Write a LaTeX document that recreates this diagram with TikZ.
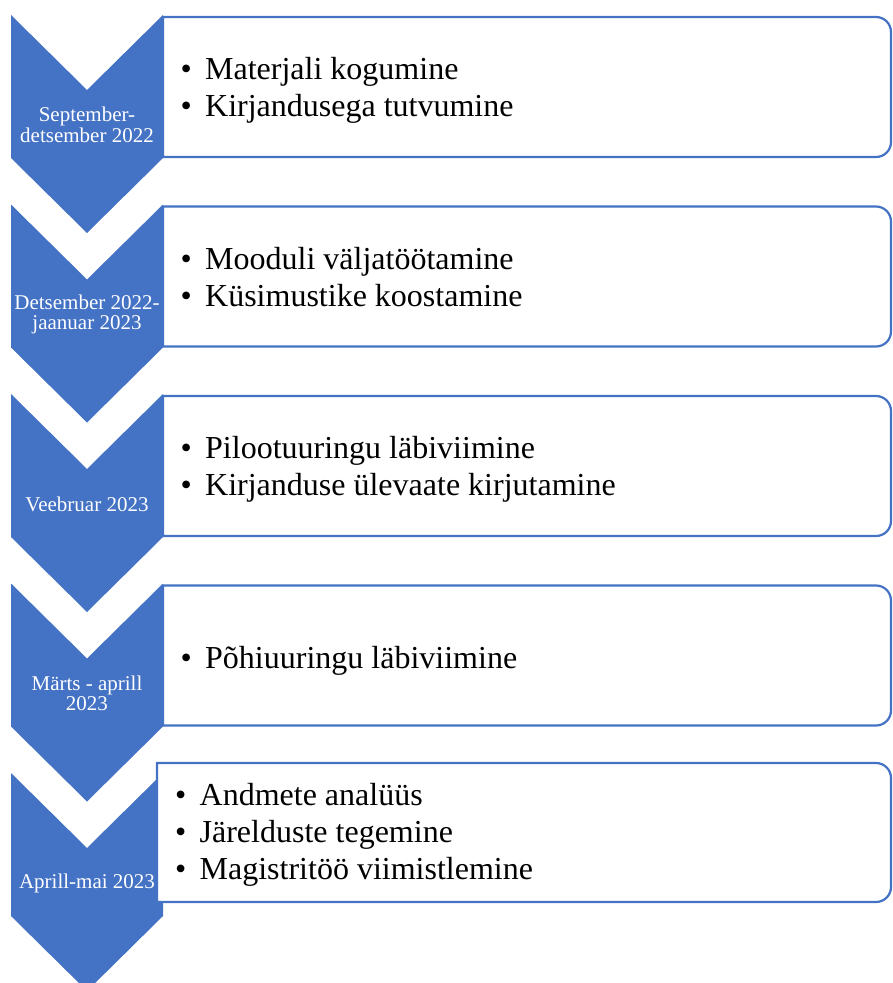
\documentclass[tikz,border=0pt]{standalone}
\usepackage{fontspec}
\setmainfont{Liberation Serif}
\definecolor{accblue}{HTML}{4472C4}
\newcommand\bitem[1]{\makebox[24.5pt][l]{\textbullet}#1}
\begin{document}
\begin{tikzpicture}[x=1pt,y=-1pt,
  chevfill/.style={fill=accblue,draw=none},
  chevlabel/.style={text=white,align=center,inner sep=0pt,font=\fontsize{21}{20.5}\selectfont},
  boxline/.style={draw=accblue,line width=2.2pt,fill=white},
  boxtext/.style={anchor=base west,inner sep=0pt,font=\fontsize{32}{37}\selectfont}]
\useasboundingbox (0,0) rectangle (892,983);
% chevrons
\foreach \t/\n in {15/1,204.5/2,394/3,583.5/4,773/5}{
  \fill[chevfill] (11,\t) -- (87,\t+75) -- (163,\t) -- (163,\t+143) -- (87,\t+218) -- (11,\t+143) -- cycle;
  \coordinate (chev\n) at (87,\t+110);
}
% boxes
\foreach \t/\l in {17/163,206.5/163,396/163,585.5/163}{
  \draw[boxline] (\l,\t) [rounded corners=15pt] -- (891,\t) -- (891,\t+140) [sharp corners] -- (\l,\t+140) -- cycle;
}
\draw[boxline] (157,763) [rounded corners=15pt] -- (891,763) -- (891,902) [sharp corners] -- (157,902) -- cycle;
% chevron labels
\node[chevlabel] (l1) at (chev1) {September-\\detsember 2022};
\node[chevlabel] (l2) at (chev2) {Detsember 2022-\\jaanuar 2023};
\node[chevlabel] (l3) at (chev3) {Veebruar 2023};
\node[chevlabel] (l4) at (chev4) {Märts - aprill\\2023};
\node[chevlabel] (l5) at (chev5) {Aprill-mai 2023};
% box texts
\node[boxtext] (t1a) at (180.5,79) {\bitem{Materjali kogumine}};
\node[boxtext] (t1b) at (180.5,116) {\bitem{Kirjandusega tutvumine}};
\node[boxtext] (t2a) at (180.5,269) {\bitem{Mooduli väljatöötamine}};
\node[boxtext] (t2b) at (180.5,306) {\bitem{Küsimustike koostamine}};
\node[boxtext] (t3a) at (180.5,458) {\bitem{Pilootuuringu läbiviimine}};
\node[boxtext] (t3b) at (180.5,495) {\bitem{Kirjanduse ülevaate kirjutamine}};
\node[boxtext] (t4a) at (180.5,668) {\bitem{Põhiuuringu läbiviimine}};
\node[boxtext] (t5a) at (175,805) {\bitem{Andmete analüüs}};
\node[boxtext] (t5b) at (175,842) {\bitem{Järelduste tegemine}};
\node[boxtext] (t5c) at (175,879) {\bitem{Magistritöö viimistlemine}};
\end{tikzpicture}
\end{document}
